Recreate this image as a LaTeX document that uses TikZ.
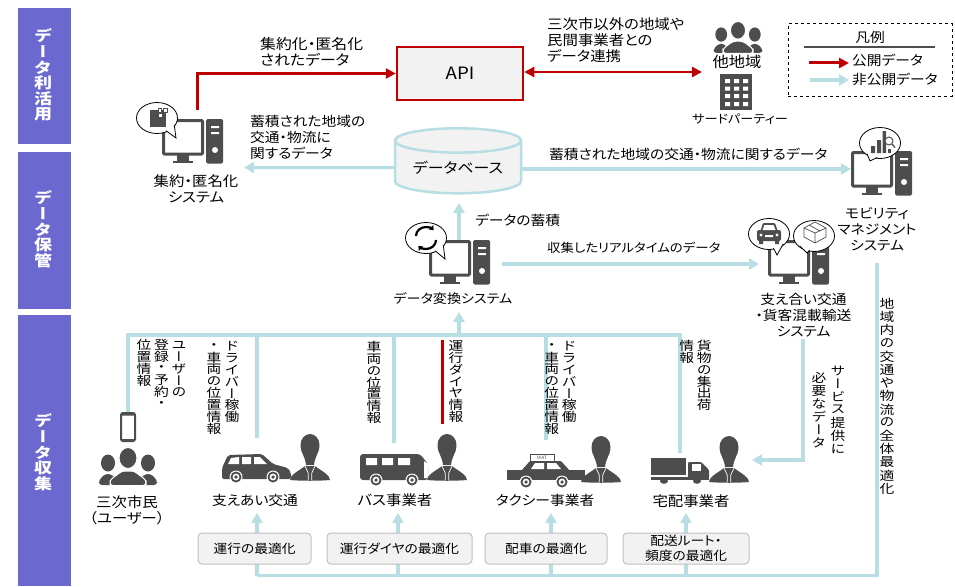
\documentclass[tikz,border=0pt]{standalone}
\usepackage{fontspec}
\usetikzlibrary{shapes,arrows,arrows.meta,positioning,calc}
\setmainfont[FakeStretch=1.1,RawFeature={+palt}]{Noto Sans CJK JP}
\newfontfamily\vfont[FakeStretch=1.2,RawFeature={+vert}]{Noto Sans CJK JP}
\definecolor{pubred}{RGB}{192,0,0}
\definecolor{privblue}{RGB}{183,222,226}
\definecolor{sidepurple}{RGB}{107,105,207}
\definecolor{icondark}{RGB}{77,77,77}
\definecolor{boxfill}{RGB}{242,242,242}
\definecolor{boxedge}{RGB}{191,191,191}
\newcommand{\jpsize}{\fontsize{13.4}{16}\selectfont}
\newcommand{\jplarge}{\fontsize{14}{16}\selectfont}
\newcommand{\jpsmall}{\fontsize{12.5}{15}\selectfont}
\newcommand{\vfsize}{12.3}
\makeatletter
\newcommand{\vcol}[2][11.8pt]{\vtop{\offinterlineskip\vfont\fontsize{\vfsize}{13}\selectfont\@tfor\vchar:=#2\do{\vbox to #1{\vss\hbox to 14pt{\hss\vchar\hss}\vss}}}}
\makeatother
\newcommand{\bubble}[5]{%
	\draw[black,fill=white,line width=.8pt] (#1,#2) ellipse (20.5 and 15.5);
	\draw[black,fill=white,line width=.8pt] ({#1+19.5*cos(#3-17)},{#2+14.5*sin(#3-17)}) -- (#4,#5) -- ({#1+19.5*cos(#3+17)},{#2+14.5*sin(#3+17)});
}
\newcommand{\winrow}[1]{\fill[white] (5,#1) rectangle +(5,4) (14,#1) rectangle +(5,4) (23,#1) rectangle +(5,4);}
\newcommand{\wheel}[3]{%
	\fill[white] (#1,#2) circle ({#3+1});
	\fill[icondark] (#1,#2) circle (#3);
	\fill[white] (#1,#2) circle ({#3*.62});
	\fill[icondark] (#1,#2) circle ({#3*.32});
}
\tikzset{
	publine/.style={draw=pubred,line width=3pt,-{Triangle[length=10pt,width=10pt]}},
	pubboth/.style={draw=pubred,line width=2.5pt,{Triangle[length=10pt,width=10pt]}-{Triangle[length=10pt,width=10pt]}},
	privline/.style={draw=privblue,line width=3.4pt,-{Triangle[length=10pt,width=11pt]}},
	privbar/.style={draw=privblue,line width=3.4pt},
	lab/.style={inner sep=0pt,font=\jpsize,align=left,anchor=west},
	mid/.style={inner sep=0pt,font=\jpsize,align=center},
	vlab/.style={inner sep=0pt,anchor=north},
	sidebar/.style={fill=sidepurple,minimum width=53pt,inner sep=0pt},
	optbox/.style={draw=boxedge,fill=boxfill,rounded corners=4pt,line width=1pt,minimum height=31pt,inner sep=0pt,font=\jpsmall,align=center},
	pcicon/.pic={
		\draw[icondark,line width=3pt,rounded corners=1pt] (1.5,1.5) rectangle (40.5,35);
		\fill[icondark] (15,36) rectangle (27,42);
		\fill[icondark] (11,41.5) rectangle (31,44);
		\fill[icondark,rounded corners=1.5pt] (44,0) rectangle (61,44.5);
		\fill[white] (49,7) rectangle (57,9) (49,13) rectangle (57,15);
		\fill[white] (53,31) circle (3);
	},
	folkicon/.pic={
		\fill[icondark] (-20,-22) ellipse (7 and 8.5);
		\fill[icondark] (20,-22) ellipse (7 and 8.5);
		\fill[icondark,rounded corners=3pt] (-29,0) -- (-29,-5) -- (-23,-11) -- (-17,-11) -- (-11,-5) -- (-11,0) -- cycle;
		\fill[icondark,rounded corners=3pt] (29,0) -- (29,-5) -- (23,-11) -- (17,-11) -- (11,-5) -- (11,0) -- cycle;
		\fill[icondark,draw=white,line width=1pt] (0,-27) ellipse (9 and 10.5);
		\fill[icondark,draw=white,line width=1pt,rounded corners=3pt] (-18,.5) -- (-18,-5) -- (-6,-14) -- (6,-14) -- (18,-5) -- (18,.5) -- cycle;
	},
	staffer/.pic={
		\fill[icondark] (0,-35) ellipse (9.5 and 11);
		\fill[icondark] (-9.4,-33) .. controls (-9,-27) and (-5,-24) .. (-4,-15) -- (4,-15) .. controls (5,-24) and (9,-27) .. (9.4,-33) -- cycle;
		\fill[icondark] (-20,0) .. controls (-20,-5) and (-13,-8) .. (-5,-14) -- (5,-14) .. controls (13,-8) and (20,-5) .. (20,0) .. controls (10,1) and (-10,1) .. (-20,0) -- cycle;
		\draw[white,line width=.7pt] (-5,-14) -- (-1.8,-7) -- (-1.8,0) (5,-14) -- (1.8,-7) -- (1.8,0);
	},
	sedan/.pic={
		\fill[icondark,rounded corners=2pt] (0,-3) -- (0,-14) -- (6,-27) -- (40,-28) -- (51,-18) -- (66,-14) -- (69,-9) -- (69,-3) -- cycle;
		\fill[white] (9,-24) -- (17,-25) -- (17,-18) -- (6,-18) -- cycle (20,-25) -- (29,-25) -- (29,-18) -- (20,-18) -- cycle (32,-25) -- (38,-25) -- (45,-18) -- (32,-18) -- cycle;
		\wheel{14}{-5}{5.5}
		\wheel{51}{-5}{5.5}
	},
	busicon/.pic={
		\fill[icondark,rounded corners=3pt] (0,-30) -- (60,-30) -- (68,-20) -- (68,-4) -- (0,-4) -- cycle;
		\fill[white] (6,-26) rectangle (17,-19) (22,-26) rectangle (33,-19) (38,-26) rectangle (50,-19);
		\fill[white] (64,-23) -- (68,-20) -- (68,-6) -- (64,-6) -- cycle;
		\wheel{16}{-4}{5.5}
		\wheel{52}{-4}{5.5}
	},
	taxiicon/.pic={
		\fill[icondark] (0,-10) rectangle (78,0);
		\fill[icondark,rounded corners=1pt] (14,-9) -- (23,-19) -- (54,-19) -- (63,-9) -- cycle;
		\draw[icondark,fill=white,line width=.8pt] (23.5,-19) rectangle (47,-26);
		\node (taxisign) [inner sep=0pt,text=icondark,font=\fontsize{4.5}{5}\selectfont] at (35,-22.5) {IXAT};
		\fill[white] (24,-11) -- (28,-17) -- (37,-17) -- (37,-11) -- cycle (40,-17) -- (49,-17) -- (54,-11) -- (40,-11) -- cycle;
		\wheel{19}{2}{5.5}
		\wheel{55}{2}{5.5}
	},
	truckicon/.pic={
		\fill[icondark] (0,-26) rectangle (35,-9);
		\fill[icondark,rounded corners=1pt] (37,-22) -- (50,-22) -- (58,-14) -- (58,-6) -- (37,-6) -- cycle;
		\fill[white] (41,-20) rectangle (50,-13);
		\fill[icondark] (0,-7) rectangle (58,-4.5);
		\fill[icondark] (13,-3) ellipse (4 and 2.8) (46,-3) ellipse (4 and 2.8);
	},
	towerblock/.pic={
		\fill[icondark] (0,0) rectangle (32,36);
		\winrow{5}
		\winrow{12.5}
		\winrow{20}
		\winrow{28}
	},
}
\begin{document}
\begin{tikzpicture}[x=1pt,y=-1pt]
	\useasboundingbox (0,0) rectangle (955,586);
	% side bars
	\node (useband) [sidebar,minimum height=136pt] at (44.5,76) {};
	\node (keepband) [sidebar,minimum height=157pt] at (44.5,230.5) {};
	\node (collectband) [sidebar,minimum height=271pt] at (44.5,450.5) {};
	\renewcommand{\vfsize}{15}
	\node (usetext) [vlab,text=white] at (43,28) {\bfseries\vcol[15.7pt]{データ利活用}};
	\node (keeptext) [vlab,text=white] at (43,190) {\bfseries\vcol[15.7pt]{データ保管}};
	\node (collecttext) [vlab,text=white] at (43,413) {\bfseries\vcol[15.7pt]{データ収集}};
	\renewcommand{\vfsize}{12.3}

	% end points of the connectors
	\coordinate (aggtop) at (197.5,110);
	\coordinate (aggin) at (244,167.5);
	\coordinate (dbout) at (522,169);
	\coordinate (mobin) at (851,169);
	\coordinate (fartip) at (702,72);
	\coordinate (convout) at (459,240);
	\coordinate (dbin) at (459,203);
	\coordinate (convright) at (502,264);
	\coordinate (supin) at (759,264);
	\coordinate (trunkup) at (459,335);
	\coordinate (convin) at (459,312);
	\coordinate (trunkend) at (680,335);
	\coordinate (shipend) at (680,453);
	\coordinate (suptop) at (257,335);
	\coordinate (supend) at (257,438);
	\coordinate (bustop) at (394,335);
	\coordinate (busend) at (394,443);
	\coordinate (taxitop) at (546,335);
	\coordinate (taxiend) at (546,440);
	\coordinate (supout) at (803,339);
	\coordinate (shipin) at (752,460);
	\coordinate (mobout) at (877,263);
	\coordinate (lowright) at (877,575.5);
	\coordinate (lowA) at (257,575.5);
	\coordinate (lowB) at (398,575.5);
	\coordinate (lowC) at (551,575.5);
	\coordinate (lowD) at (686,575.5);
	\coordinate (tipA) at (257,513);
	\coordinate (tipB) at (398,513);
	\coordinate (tipC) at (551,513);
	\coordinate (tipD) at (686,513);
	\coordinate (dialtop) at (442.5,340);
	\coordinate (dialend) at (442.5,424);
	\coordinate (legAa) at (809,63);
	\coordinate (legAb) at (849,63);
	\coordinate (legBa) at (810,80);
	\coordinate (legBb) at (849,80);
	\coordinate (legrulea) at (804,47);
	\coordinate (legruleb) at (935,47);

	% main boxes
	\node (api) [draw=pubred,fill=boxfill,line width=2.5pt,minimum width=126pt,minimum height=53pt,inner sep=0pt,font=\fontsize{17}{20}\selectfont] at (460,73.5) {API};
	\node (db) [cylinder,shape border rotate=90,aspect=.27,draw=privblue,fill=boxfill,line width=2.5pt,minimum width=126pt,minimum height=65pt,inner sep=0pt,font=\fontsize{14.5}{18}\selectfont] at (458,167.5) {\raisebox{-3pt}{データベース}};
	\node (phone) [draw=icondark,fill=white,line width=2pt,rounded corners=2pt,minimum width=14pt,minimum height=28pt,inner sep=0pt] at (128,427) {};
	\fill[icondark] (122,413) rectangle (134,415.5) (122,439) rectangle (134,441);

	% connectors
	\draw[publine,line width=3.5pt] (aggtop) |- (api.west);
	\draw[pubboth] (api.east |- fartip) -- (fartip);
	\draw[privline] (db.west) -- (aggin);
	\draw[privline] (dbout) -- (mobin);
	\draw[privline] (convout) -- (dbin);
	\draw[privline] (convright) -- (supin);
	\draw[privline] (trunkup) -- (convin);
	\draw[privbar] (phone.north) |- (trunkend) -- (shipend);
	\path[privbar] (suptop) edge (supend);
	\path[privbar] (bustop) edge (busend);
	\path[privbar] (taxitop) edge (taxiend);
	\draw[privline] (supout) |- (shipin);
	\draw[privbar] (mobout) -- (lowright) -- (lowA);
	\draw[privline] (lowA) -- (tipA);
	\draw[privline] (lowB) -- (tipB);
	\draw[privline] (lowC) -- (tipC);
	\draw[privline] (lowD) -- (tipD);
	\path[draw=pubred,line width=3.5pt] (dialtop) edge (dialend);

	% optimisation boxes
	\node (optA) [optbox,minimum width=113pt] at (254.5,548.5) {運行の最適化};
	\node (optB) [optbox,minimum width=145pt] at (399.5,548.5) {運行ダイヤの最適化};
	\node (optC) [optbox,minimum width=122pt] at (546,548.5) {配車の最適化};
	\node (optD) [optbox,minimum width=126pt] at (686,548.5) {配送ルート・\\頻度の最適化};

	% system icons
	\pic (pcagg) at (162,119) {pcicon};
	\bubble{157}{118}{45}{176}{138}
	\fill[icondark] (150,110) rectangle (166,127);
	\draw[icondark,fill=white,line width=.7pt] (158,113) rectangle +(4,4) (163,108) rectangle +(4,4) (158,108.5) rectangle +(3.5,3.5);

	\pic (pcconv) at (429,240) {pcicon};
	\bubble{426}{238}{45}{445}{259}
	\draw[black,line width=2.2pt,-{Triangle[length=4pt,width=6pt]}] (416,236) arc (180:320:10 and 9);
	\draw[black,line width=2.2pt,-{Triangle[length=4pt,width=6pt]}] (436,240) arc (0:140:10 and 9);

	\pic (pcmob) at (851,151) {pcicon};
	\bubble{880}{143}{115}{870}{161}
	\fill[icondark] (871,146) rectangle (875,153) (877,140) rectangle (881,153) (882.5,131) rectangle (886,153);
	\draw[icondark,fill=white,line width=1pt] (889,141) circle (4);
	\draw[icondark,line width=1.3pt] (892,144) -- (895,147.5);
	\fill[icondark] (888,153) rectangle (891,149);

	\pic (pcsup) at (768,240) {pcicon};
	\bubble{769}{234}{60}{777}{255}
	\bubble{814}{236}{120}{807}{253}
	\fill[icondark,rounded corners=2pt] (757,230) rectangle (781,241);
	\fill[icondark,rounded corners=1pt] (760,232) -- (763,223) -- (775,223) -- (778,232) -- cycle;
	\fill[white] (762.5,230) -- (764.5,225) -- (773.5,225) -- (775.5,230) -- cycle;
	\fill[icondark] (759,240) rectangle (763,244) (775,240) rectangle (779,244);
	\fill[white] (761,235) circle (1.7) (777,235) circle (1.7) (765,235) rectangle (773,237);
	\draw[icondark,line width=.7pt,line join=round] (804,228) -- (815,222) -- (826,228) -- (826,237) -- (815,243) -- (804,237) -- cycle (804,228) -- (815,233) -- (826,228) (815,233) -- (815,243) (809,225) -- (820,231);

	% outside parties
	\pic[scale=.84] (farfolk) at (738,53) {folkicon};
	\pic (farblock) at (720,74) {towerblock};
	\pic (citizens) at (128,485) {folkicon};

	% operators
	\pic (supcar) at (222,482) {sedan};
	\pic (supman) at (310,480) {staffer};
	\pic (buscar) at (360,484) {busicon};
	\pic (busman) at (447,480) {staffer};
	\pic (taxicar) at (507,480) {taxiicon};
	\pic (taximan) at (601,482) {staffer};
	\pic (shipcar) at (651,484) {truckicon};
	\pic (shipman) at (729,482) {staffer};

	% labels
	\node (l1) [lab,font=\fontsize{14.4}{16}\selectfont] at (260,52) {集約化・匿名化\\されたデータ};
	\node (l2) [lab,font=\jplarge] at (547,40) {三次市以外の地域や\\民間事業者との\\データ連携};
	\node (l3) [lab] at (250,137) {蓄積された地域の\\交通・物流に\\関するデータ};
	\node (l4) [lab] at (549,154) {蓄積された地域の交通・物流に関するデータ};
	\node (l5) [lab] at (475,220.5) {データの蓄積};
	\node (l6) [lab,font=\fontsize{12.2}{15}\selectfont] at (547,248) {収集したリアルタイムのデータ};
	\node (n1) [mid,font=\jplarge] at (196,189) {集約・匿名化\\システム};
	\node (n2) [mid,font=\fontsize{14.8}{16}\selectfont] at (737,62) {他地域};
	\node (n3) [mid,font=\fontsize{12}{15}\selectfont] at (740,119) {サードパーティー};
	\node (n4) [mid] at (877,229) {モビリティ\\マネジメント\\システム};
	\node (n5) [mid,font=\fontsize{12.8}{15}\selectfont] at (453,299) {データ変換システム};
	\node (n6) [mid] at (803.5,315) {支え合い交通\\・貨客混載輸送\\システム};
	\node (n7) [mid,font=\jplarge] at (127,510.5) {三次市民\\（ユーザー）};
	\node (n8) [mid] at (255,500) {支えあい交通};
	\node (n9) [mid,font=\jplarge] at (395,500) {バス事業者};
	\node (n10) [mid] at (545,500) {タクシー事業者};
	\node (n11) [mid,font=\jplarge] at (691,501) {宅配事業者};

	% upright labels
	\node (v1) [vlab] at (161.5,339) {\vcol{位置情報}\hskip3.5pt\vcol{登録・予約・}\hskip3.5pt\vcol{ユーザーの}};
	\node (v2) [vlab] at (223,340) {\vcol{・車両の位置情報}\hskip4pt\vcol{ドライバー稼働}};
	\node (v3) [vlab] at (374,341) {\vcol{車両の位置情報}};
	\node (v4) [vlab] at (456,340) {\vcol{運行ダイヤ情報}};
	\node (v5) [vlab] at (560.5,340) {\vcol{・車両の位置情報}\hskip3.5pt\vcol{ドライバー稼働}};
	\node (v6) [vlab] at (695.5,340) {\vcol{情報}\hskip3.5pt\vcol{貨物の集出荷}};
	\node (v7) [vlab] at (838,364) {\vcol[13pt]{サービス提供に}};
	\node (v8) [vlab] at (819,371) {\vcol[13pt]{必要なデータ}};
	\node (v9) [vlab] at (887,297) {\vcol[13.2pt]{地域内の交通や物流の全体最適化}};

	% legend
	\node (legend) [draw=black,dashed,line width=1pt,minimum width=164pt,minimum height=72pt,inner sep=0pt] at (870,60) {};
	\node (legtitle) [mid] at (870,37) {凡例};
	\path[draw=icondark,line width=1.3pt] (legrulea) edge (legruleb);
	\draw[publine] (legAa) -- (legAb);
	\draw[privline] (legBa) -- (legBb);
	\node (legpub) [lab] at (852,60) {公開データ};
	\node (legpriv) [lab] at (852,79) {非公開データ};
\end{tikzpicture}
\end{document}
